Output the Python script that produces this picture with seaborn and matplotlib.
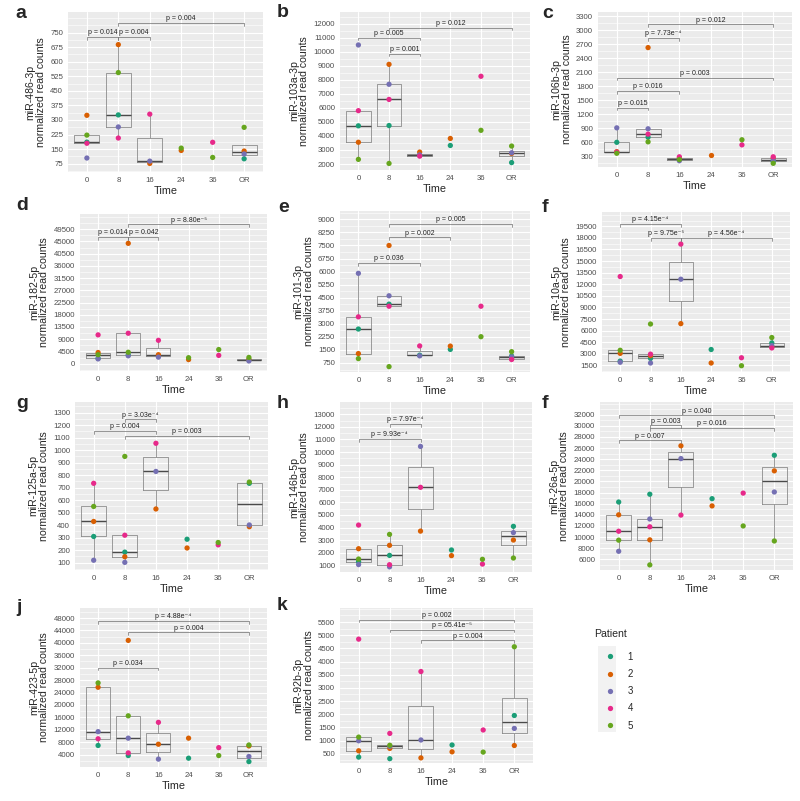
import numpy as np
import pandas as pd
import seaborn as sns
import matplotlib
matplotlib.use("Agg")
import matplotlib.pyplot as plt
from matplotlib.lines import Line2D
from matplotlib.ticker import MultipleLocator
from matplotlib.patches import Rectangle

sns.set_theme(style="white")
plt.rcParams["font.family"] = ["Liberation Sans", "DejaVu Sans"]

times = ["0", "8", "16", "24", "36", "OR"]
box_times = ["0", "8", "16", "OR"]
patients = ["1", "2", "3", "4", "5"]
patient_colors = ["#1B9E77", "#D95F02", "#7570B3", "#E7298A", "#66A61E"]

# ---------------- data ----------------
# a: miR-486-3p
a_time = ["0"]*5 + ["8"]*5 + ["16"]*3 + ["24"]*2 + ["36"]*2 + ["OR"]*4
a_patient = [1, 2, 3, 4, 5, 1, 2, 3, 4, 5, 2, 3, 4, 2, 5, 4, 5, 1, 2, 3, 5]
a_value = [186, 324, 104, 180, 222, 326, 688, 264, 207, 544, 76, 88, 330,
           143, 155, 185, 107, 100, 140, 125, 262]

# b: miR-103a-3p
b_time = ["0"]*5 + ["8"]*5 + ["16"]*4 + ["24"]*2 + ["36"]*2 + ["OR"]*4
b_patient = [1, 2, 3, 4, 5, 1, 2, 3, 4, 5, 1, 2, 3, 4, 1, 2, 4, 5, 1, 2, 3, 5]
b_value = [4720, 3550, 10480, 5800, 2330, 4740, 9100, 7680, 6600, 2040,
           2620, 2850, 2650, 2560, 3320, 3820, 8250, 4400, 2100, 2750, 2800, 3280]

# c: miR-106b-3p
c_time = ["0"]*5 + ["8"]*5 + ["16"]*5 + ["24"]*1 + ["36"]*2 + ["OR"]*5
c_patient = [1, 2, 3, 4, 5, 1, 2, 3, 4, 5, 1, 2, 3, 4, 5, 2, 4, 5, 1, 2, 3, 4, 5]
c_value = [600, 400, 910, 390, 365, 710, 2630, 890, 775, 610,
           240, 260, 205, 290, 230, 330, 545, 655, 190, 260, 220, 290, 150]

# d: miR-182-5p
d_time = ["0"]*5 + ["8"]*5 + ["16"]*3 + ["24"]*2 + ["36"]*2 + ["OR"]*4
d_patient = [1, 2, 3, 4, 5, 1, 2, 3, 4, 5, 2, 3, 4, 2, 5, 4, 5, 1, 2, 3, 5]
d_value = [1950, 4100, 1750, 10600, 3300, 3200, 44300, 2900, 11200, 4200,
           3300, 2400, 8600, 1500, 2200, 3050, 5200, 1400, 1500, 1000, 2300]

# e: miR-101-3p
e_time = ["0"]*5 + ["8"]*5 + ["16"]*3 + ["24"]*2 + ["36"]*2 + ["OR"]*5
e_patient = [1, 2, 3, 4, 5, 1, 2, 3, 4, 5, 1, 3, 4, 1, 2, 4, 5, 1, 2, 3, 4, 5]
e_value = [2700, 1290, 5900, 3400, 1000, 4130, 7500, 4610, 4010, 540,
           1200, 1160, 1730, 1530, 1720, 4010, 2260, 1150, 1000, 1100, 950, 1400]

# f: miR-10a-5p
f_time = ["0"]*5 + ["8"]*5 + ["16"]*3 + ["24"]*2 + ["36"]*2 + ["OR"]*5
f_patient = [1, 2, 3, 4, 5, 1, 2, 3, 4, 5, 2, 3, 4, 1, 2, 4, 5, 1, 2, 3, 4, 5]
f_value = [2050, 3050, 1900, 13000, 3450, 2400, 2750, 1800, 2950, 6850,
           6900, 12650, 17200, 3550, 1800, 2480, 1450, 4400, 3900, 4050, 3750, 5100]

# g: miR-125a-5p
g_time = ["0"]*5 + ["8"]*5 + ["16"]*3 + ["24"]*2 + ["36"]*2 + ["OR"]*4
g_patient = [1, 2, 3, 4, 5, 1, 2, 3, 4, 5, 2, 3, 4, 1, 2, 4, 5, 1, 2, 3, 5]
g_value = [310, 430, 120, 735, 550, 185, 148, 103, 320, 950,
           530, 830, 1055, 288, 218, 243, 262, 735, 388, 402, 745]

# h: miR-146b-5p
h_time = ["0"]*5 + ["8"]*5 + ["16"]*3 + ["24"]*2 + ["36"]*2 + ["OR"]*4
h_patient = [1, 2, 3, 4, 5, 1, 2, 3, 4, 5, 2, 3, 4, 1, 2, 4, 5, 1, 2, 3, 5]
h_value = [1300, 2320, 1060, 4200, 1500, 1790, 2590, 880, 1050, 3460,
           3720, 10450, 7200, 2220, 1770, 1100, 1480, 4100, 3010, 3600, 1580]

# i (labelled f): miR-26a-5p
i_time = ["0"]*5 + ["8"]*5 + ["16"]*3 + ["24"]*2 + ["36"]*2 + ["OR"]*4
i_patient = [1, 2, 3, 4, 5, 1, 2, 3, 4, 5, 2, 3, 4, 1, 2, 4, 5, 1, 2, 3, 5]
i_value = [16300, 14000, 7450, 11050, 9450, 17700, 9500, 13250, 11850, 5000,
           26400, 24100, 13950, 16900, 15600, 17900, 12000, 24700, 21900, 18100, 9300]

# j: miR-423-5p
j_time = ["0"]*5 + ["8"]*5 + ["16"]*3 + ["24"]*2 + ["36"]*2 + ["OR"]*4
j_patient = [1, 2, 3, 4, 5, 1, 2, 3, 4, 5, 2, 3, 4, 1, 2, 4, 5, 1, 2, 3, 5]
j_value = [6950, 25700, 11400, 9100, 27100, 3700, 40800, 9300, 4550, 16500,
           7350, 2550, 14400, 2850, 9300, 6250, 3700, 1750, 6800, 3400, 7100]

# k: miR-92b-3p
k_time = ["0"]*5 + ["8"]*5 + ["16"]*3 + ["24"]*2 + ["36"]*2 + ["OR"]*4
k_patient = [1, 2, 3, 4, 5, 1, 2, 3, 4, 5, 2, 3, 4, 1, 2, 4, 5, 1, 2, 3, 5]
k_value = [370, 610, 990, 4850, 1130, 310, 700, 780, 1270, 820,
           340, 1020, 3620, 830, 570, 1400, 560, 1950, 810, 1460, 4560]

# significance annotations: (group1, group2, height, label)
a_sig = [("0", "8", 728, "p = 0.014"), ("8", "16", 728, "p = 0.004"), ("8", "OR", 801, "p = 0.004")]
b_sig = [("0", "16", 11005, "p = 0.005"), ("8", "16", 9870, "p = 0.001"), ("8", "OR", 11716, "p = 0.012")]
c_sig = [("8", "16", 2836, "p = 7.73e⁻⁴"), ("8", "OR", 3129, "p = 0.012"), ("0", "OR", 1986, "p = 0.003"),
         ("0", "16", 1700, "p = 0.016"), ("0", "8", 1343, "p = 0.015")]
d_sig = [("0", "8", 46565, "p = 0.014"), ("8", "16", 46565, "p = 0.042"), ("8", "OR", 51335, "p = 8.80e⁻⁵")]
e_sig = [("8", "OR", 8731, "p = 0.005"), ("8", "24", 7964, "p = 0.002"), ("0", "16", 6487, "p = 0.036")]
f_sig = [("0", "16", 19800, "p = 4.15e⁻⁴"), ("8", "16", 17990, "p = 9.75e⁻⁵"),
         ("16", "OR", 17990, "p = 4.56e⁻⁴")]
g_sig = [("8", "16", 1247, "p = 3.03e⁻⁴"), ("0", "16", 1154, "p = 0.004"), ("8", "OR", 1114, "p = 0.003")]
h_sig = [("8", "16", 12258, "p = 7.97e⁻⁴"), ("0", "16", 11066, "p = 9.93e⁻⁴")]
i_sig = [("0", "OR", 31880, "p = 0.040"), ("8", "16", 30087, "p = 0.003"), ("8", "OR", 29609, "p = 0.016"),
         ("0", "16", 27400, "p = 0.007")]
j_sig = [("0", "OR", 47137, "p = 4.88e⁻⁴"), ("8", "OR", 43364, "p = 0.004"), ("0", "16", 32040, "p = 0.034")]
k_sig = [("0", "OR", 5589, "p = 0.002"), ("8", "OR", 5209, "p = 05.41e⁻⁵"), ("16", "OR", 4804, "p = 0.004")]

# ---------------- layout ----------------
W, H = 800, 801
fig = plt.figure(figsize=(W / 100, H / 100), dpi=100)
pal = dict(zip(patients, patient_colors))

panels = [
    ("a", (68, 12, 263, 172), "miR-486-3p", a_time, a_patient, a_value, (75, 750, 75), (32, 856), a_sig, (15, 18)),
    ("b", (340, 12, 530, 170), "miR-103a-3p", b_time, b_patient, b_value, (2000, 12000, 1000), (1573, 12829), b_sig, (277, 17)),
    ("c", (598, 12, 792, 167), "miR-106b-3p", c_time, c_patient, c_value, (300, 3300, 300), (71, 3393), c_sig, (542, 18)),
    ("d", (80, 214, 267, 371), "miR-182-5p", d_time, d_patient, d_value, (0, 49500, 4500), (-2700, 55100), d_sig, (16, 210)),
    ("e", (340, 211, 530, 372), "miR-101-3p", e_time, e_patient, e_value, (750, 9000, 750), (232, 9480), e_sig, (278, 212)),
    ("f", (602, 212, 790, 372), "miR-10a-5p", f_time, f_patient, f_value, (1500, 19500, 1500), (637, 21356), f_sig, (542, 212)),
    ("g", (75, 402, 268, 570), "miR-125a-5p", g_time, g_patient, g_value, (100, 1300, 100), (42, 1385), g_sig, (16, 408)),
    ("h", (340, 402, 532, 572), "miR-146b-5p", h_time, h_patient, h_value, (1000, 13000, 1000), (470, 13980), h_sig, (277, 408)),
    ("f", (600, 402, 793, 570), "miR-26a-5p", i_time, i_patient, i_value, (6000, 32000, 2000), (4086, 34270), i_sig, (542, 408)),
    ("j", (80, 608, 267, 767), "miR-423-5p", j_time, j_patient, j_value, (4000, 48000, 4000), (11, 51234), j_sig, (16, 612)),
    ("k", (340, 608, 533, 763), "miR-92b-3p", k_time, k_patient, k_value, (500, 5500, 500), (146, 6032), k_sig, (277, 610)),
]

for letter, (l, t, r, b), gene, tm, pt, vals, (y0, y1, ys), ylim, sig, (lx, ly) in panels:
    ax = fig.add_axes([l / W, 1 - b / H, (r - l) / W, (b - t) / H])
    ax.set_facecolor("#EBEBEB")
    df = pd.DataFrame({"Time": tm, "Patient": [str(p) for p in pt], "Value": vals})
    box_df = df[df["Time"].isin(box_times)]
    sns.boxplot(data=box_df, x="Time", y="Value", order=times, width=0.8, showfliers=False,
                showcaps=False, fill=False, color="#8c8c8c", linewidth=0.6,
                medianprops={"color": "#4a4a4a", "linewidth": 1.0}, ax=ax, zorder=2)
    sns.stripplot(data=df, x="Time", y="Value", hue="Patient", order=times, hue_order=patients,
                  palette=pal, jitter=False, size=3.8, linewidth=0, legend=False, ax=ax, zorder=3)
    ax.set_xlim(-0.6, 5.6)
    ax.set_ylim(*ylim)
    ticks = list(range(y0, y1 + 1, ys))
    ax.set_yticks(ticks)
    ax.set_yticklabels([str(v) for v in ticks])
    ax.yaxis.set_minor_locator(MultipleLocator(ys / 2))
    ax.set_axisbelow(True)
    ax.grid(True, which="major", color="white", linewidth=0.8)
    ax.grid(True, which="minor", axis="y", color="white", linewidth=0.4)
    for s in ax.spines.values():
        s.set_visible(False)
    ax.tick_params(axis="both", which="major", length=2, width=0.6, color="#333333",
                   labelsize=5.6, labelcolor="#4d4d4d", pad=1.5)
    ax.tick_params(axis="both", which="minor", length=0)
    ax.set_xlabel("Time", fontsize=7.8, labelpad=1.5)
    ax.set_ylabel(f"{gene}\nnormalized read counts", fontsize=7.6, linespacing=1.05, labelpad=3)
    rng = ylim[1] - ylim[0]
    tip = 0.018 * rng
    for g1, g2, yy, lab in sig:
        x1, x2 = times.index(g1), times.index(g2)
        ax.plot([x1, x1, x2, x2], [yy - tip, yy, yy, yy - tip], color="#6e6e6e", lw=0.5, zorder=4)
        ax.annotate(lab, xy=((x1 + x2) / 2, yy), xytext=(0, 0.5), textcoords="offset points",
                    ha="center", va="bottom", fontsize=5, color="#222222", zorder=5)
    fig.text(lx / W, 1 - ly / H, letter, fontsize=14, fontweight="bold", va="baseline", ha="left")

# legend
fig.text(594 / W, 1 - 637 / H, "Patient", fontsize=7.6, va="baseline", ha="left")
fig.patches.append(Rectangle((598 / W, 1 - 732 / H), 18 / W, 86 / H, transform=fig.transFigure,
                             facecolor="#F2F2F2", edgecolor="none", zorder=0))
handles = [Line2D([0], [0], marker="o", linestyle="", markerfacecolor=c, markeredgewidth=0,
                  markersize=3.8) for c in patient_colors]
leg = fig.legend(handles, patients, loc="upper left",
                 bbox_to_anchor=(594 / W, 1 - 647 / H), frameon=False, fontsize=7,
                 borderpad=0, handlelength=2.2, handletextpad=0.75,
                 labelspacing=0.74, alignment="left")

fig.savefig("out.png", dpi=100)
